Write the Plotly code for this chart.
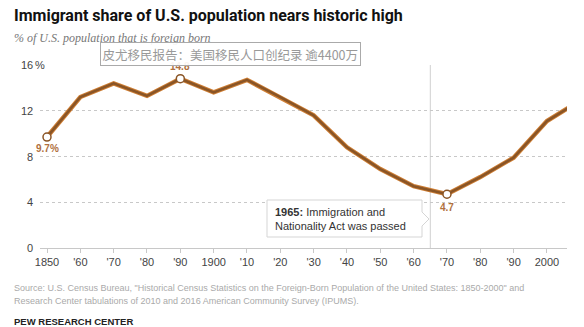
import plotly.graph_objects as go

# ---- data ----
years = [1850, 1860, 1870, 1880, 1890, 1900, 1910, 1920, 1930, 1940,
         1950, 1960, 1970, 1980, 1990, 2000, 2010, 2016]
share = [9.7, 13.2, 14.4, 13.3, 14.8, 13.6, 14.7, 13.2, 11.6, 8.8,
         6.9, 5.4, 4.7, 6.2, 7.9, 11.1, 12.9, 13.5]
tick_years = [1850, 1860, 1870, 1880, 1890, 1900, 1910, 1920, 1930, 1940,
              1950, 1960, 1970, 1980, 1990, 2000]
tick_labels = ["1850", "'60", "'70", "'80", "'90", "1900", "'10", "'20", "'30",
               "'40", "'50", "'60", "'70", "'80", "'90", "2000"]
y_ticks = [0, 4, 8, 12, 16]
highlight_years = [1850, 1890, 1970]
highlight_labels = ["9.7%", "14.8", "4.7"]
event_year = 1965

W, H = 584, 327
ML, MR, MT, MB = 40, 17, 65, 79
PW, PH = W - ML - MR, H - MT - MB


def pxx(px):
    return (px - ML) / PW


def pxy(py):
    return (H - MB - py) / PH


BROWN = "#8a5526"
ORANGE = "#cf7f35"

fig = go.Figure()
fig.add_trace(go.Scatter(x=years, y=share, mode="lines",
                         line=dict(color=ORANGE, width=4.5), hoverinfo="skip"))
fig.add_trace(go.Scatter(x=years, y=share, mode="lines",
                         line=dict(color=BROWN, width=2.6), hoverinfo="skip"))
hy = [share[years.index(y)] for y in highlight_years]
fig.add_trace(go.Scatter(x=highlight_years, y=hy, mode="markers",
                         marker=dict(size=8, color="white",
                                     line=dict(color=BROWN, width=1.5)),
                         hoverinfo="skip"))

ann = []
# highlighted value labels
offs = [-11, 12, -13]
for yr, v, lab, o in zip(highlight_years, hy, highlight_labels, offs):
    ann.append(dict(x=yr, y=v, xref="x", yref="y", text=f"<b>{lab}</b>",
                    showarrow=False, yshift=o,
                    font=dict(family="Liberation Sans", size=10, color="#b07040")))

# y tick labels
for v in y_ticks:
    ann.append(dict(x=0, y=v, xref="paper", yref="y", text=str(v),
                    xanchor="right", xshift=-5, showarrow=False,
                    font=dict(family="Liberation Sans", size=11, color="#444")))
ann.append(dict(x=0, y=16, xref="paper", yref="y", text="%", bgcolor="white",
                borderpad=0, xanchor="left", xshift=-6, showarrow=False,
                font=dict(family="Liberation Sans", size=11, color="#444")))

# titles
ann.append(dict(x=pxx(12), y=pxy(16), xref="paper", yref="paper",
                text="<b>Immigrant share of U.S. population nears historic high</b>",
                xanchor="left", yanchor="middle", showarrow=False,
                font=dict(family="Roboto", size=16, color="#111")))
ann.append(dict(x=pxx(12), y=pxy(38), xref="paper", yref="paper",
                text="<i>% of U.S. population that is foreign born</i>",
                xanchor="left", yanchor="middle", showarrow=False,
                font=dict(family="Liberation Serif", size=12, color="#777")))
# overlay caption
ann.append(dict(x=pxx(100), y=pxy(53.5), xref="paper", yref="paper",
                text="皮尤移民报告：美国移民人口创纪录 逾4400万",
                xanchor="left", yanchor="middle", showarrow=False,
                bgcolor="rgba(255,255,255,0.92)", bordercolor="#aaa", borderwidth=1,
                borderpad=1.5,
                font=dict(family="Noto Sans CJK SC", size=12.5, color="#999")))
# callout text
ann.append(dict(x=pxx(273), y=pxy(219), xref="paper", yref="paper",
                text="<b>1965:</b> Immigration and<br>Nationality Act was passed",
                xanchor="left", yanchor="middle", align="left", showarrow=False,
                font=dict(family="Liberation Sans", size=11, color="#333")))
# source
ann.append(dict(x=pxx(12), y=pxy(288), xref="paper", yref="paper",
                text="Source: U.S. Census Bureau, \"Historical Census Statistics on the Foreign-Born Population of the United States: 1850-2000\" and",
                xanchor="left", yanchor="middle", showarrow=False,
                font=dict(family="Liberation Sans", size=9, color="#aaa")))
ann.append(dict(x=pxx(12), y=pxy(301), xref="paper", yref="paper",
                text="Research Center tabulations of 2010 and 2016 American Community Survey (IPUMS).",
                xanchor="left", yanchor="middle", showarrow=False,
                font=dict(family="Liberation Sans", size=9, color="#aaa")))
ann.append(dict(x=pxx(12), y=pxy(321), xref="paper", yref="paper",
                text="<b>PEW RESEARCH CENTER</b>",
                xanchor="left", yanchor="middle", showarrow=False,
                font=dict(family="Liberation Sans", size=9.5, color="#222")))

# x range from pixel geometry: 1850 at px 47, 33.33 px per decade
px_per_year = 33.33 / 10
x0 = 1850 - (47 - ML) / px_per_year
x1 = x0 + PW / px_per_year

shapes = []
# event line
shapes.append(dict(type="line", x0=event_year, x1=event_year, y0=0, y1=16,
                   xref="x", yref="y", line=dict(color="#d0d0d0", width=1),
                   layer="below"))


def dx(px):
    return x0 + (px - ML) / px_per_year


def dy(py):
    return (H - MB - py) / PH * 16


bx0, bx1, by0, by1 = dx(267), dx(422), dy(200), dy(237)
tipx, tipy = dx(429), dy(219)
n0, n1 = dy(212), dy(226)
path = (f"M{bx0},{by0} L{bx1},{by0} L{bx1},{n0} L{tipx},{tipy} L{bx1},{n1} "
        f"L{bx1},{by1} L{bx0},{by1} Z")
shapes.append(dict(type="path", path=path, xref="x", yref="y",
                   fillcolor="white", line=dict(color="#d5d5d5", width=1),
                   layer="above"))

fig.update_layout(
    width=W, height=H, margin=dict(l=ML, r=MR, t=MT, b=MB),
    paper_bgcolor="white", plot_bgcolor="white", showlegend=False,
    annotations=ann, shapes=shapes,
    xaxis=dict(range=[x0, x1], tickvals=tick_years, ticktext=tick_labels,
               showgrid=False, zeroline=False, showline=True, linecolor="#c8c8c8",
               ticks="outside", ticklen=4, tickcolor="#c8c8c8",
               tickfont=dict(family="Liberation Sans", size=11, color="#444"),
               fixedrange=True),
    yaxis=dict(range=[0, 16], tickvals=y_ticks, showticklabels=False,
               showgrid=True, gridcolor="#c8c8c8", griddash="dot", gridwidth=1,
               zeroline=False, fixedrange=True),
)

fig.write_html("out.html")
